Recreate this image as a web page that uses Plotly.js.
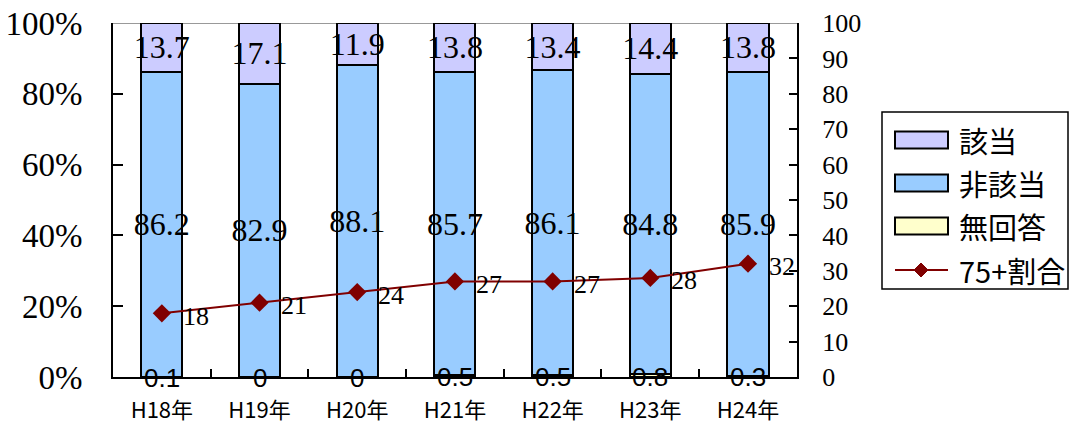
<!DOCTYPE html>
<html>
<head>
<meta charset="utf-8">
<script src="https://cdn.plot.ly/plotly-3.0.1.min.js"></script>
<style>
  html, body { margin: 0; padding: 0; background: #fff; }
  #chart { width: 1070px; height: 426px; }
</style>
</head>
<body>
<div id="chart"></div>
<script>
// Survey years
var years = ['H18年', 'H19年', 'H20年', 'H21年', 'H22年', 'H23年', 'H24年'];

// Answer shares (%), stacked bottom to top
var noAnswer = [0.1, 0, 0, 0.5, 0.5, 0.8, 0.3];                 // 無回答
var notApplicable = [86.2, 82.9, 88.1, 85.7, 86.1, 84.8, 85.9];  // 非該当
var applicable = [13.7, 17.1, 11.9, 13.8, 13.4, 14.4, 13.8];     // 該当

// Share aged 75+ (right axis)
var over75 = [18, 21, 24, 27, 27, 28, 32];

// Left axis ticks
var pctTicks = [0, 20, 40, 60, 80, 100];
var pctLabels = ['0%', '20%', '40%', '60%', '80%', '100%'];

var seriesNames = ['該当', '非該当', '無回答', '75+割合'];
var fillColors = ['#CCCCFF', '#99CCFF', '#FFFFCC'];
var lineColor = '#800000';

var serif = 'Liberation Serif, Times New Roman, serif';
var sans = 'Liberation Sans, Arial, sans-serif';
var cjk = 'Noto Sans CJK JP, sans-serif';

function barTrace(vals, name, color, showText) {
  var t = {
    type: 'bar',
    x: years,
    y: vals,
    name: name,
    marker: { color: color, line: { color: '#000', width: 2 } },
    hoverinfo: 'skip'
  };
  if (showText) {
    t.text = vals.map(String);
    t.textposition = 'inside';
    t.insidetextanchor = 'middle';
    t.textangle = 0;
    t.constraintext = 'none';
    t.textfont = { family: serif, size: 32, color: '#000' };
  } else {
    t.textposition = 'none';
  }
  return t;
}

var traces = [
  barTrace(noAnswer, seriesNames[2], fillColors[2], false),
  barTrace(notApplicable, seriesNames[1], fillColors[1], true),
  barTrace(applicable, seriesNames[0], fillColors[0], true),
  {
    type: 'scatter',
    mode: 'lines+markers',
    x: years,
    y: over75,
    yaxis: 'y2',
    name: seriesNames[3],
    line: { color: lineColor, width: 2 },
    marker: { symbol: 'diamond', size: 14, color: lineColor },
    cliponaxis: false,
    hoverinfo: 'skip'
  }
];

// Hand-built legend box on the right
var pw = 684, ph = 354;          // plot area size in px
var x0 = 113, yBottom = 377;     // plot area origin in px
function px(x) { return (x - x0) / pw; }
function py(y) { return (yBottom - y) / ph; }

var shapes = [
  // light top rule at 100%
  { type: 'line', xref: 'paper', yref: 'y', x0: 0, x1: 1, y0: 100, y1: 100,
    line: { color: '#999', width: 2 }, layer: 'below' },
  // legend frame
  { type: 'rect', xref: 'paper', yref: 'paper', x0: px(882), x1: px(1068), y0: py(289), y1: py(112),
    line: { color: '#000', width: 1.5 }, fillcolor: 'rgba(0,0,0,0)' }
];
var annotations = [];
var rowY = [140, 183, 226, 270];
for (var i = 0; i < 3; i++) {
  shapes.push({ type: 'rect', xref: 'paper', yref: 'paper',
    x0: px(895), x1: px(948), y0: py(rowY[i] + 8.5), y1: py(rowY[i] - 8.5),
    line: { color: '#000', width: 2 }, fillcolor: fillColors[i] });
}
shapes.push({ type: 'line', xref: 'paper', yref: 'paper', x0: px(895), x1: px(948),
  y0: py(rowY[3]), y1: py(rowY[3]), line: { color: lineColor, width: 2 } });
var dc = 921, dr = 7;
shapes.push({ type: 'path', xref: 'paper', yref: 'paper',
  path: 'M' + px(dc - dr) + ',' + py(rowY[3]) + ' L' + px(dc) + ',' + py(rowY[3] - dr) +
        ' L' + px(dc + dr) + ',' + py(rowY[3]) + ' L' + px(dc) + ',' + py(rowY[3] + dr) + ' Z',
  fillcolor: lineColor, line: { color: lineColor, width: 1 } });
for (var j = 0; j < 4; j++) {
  annotations.push({ xref: 'paper', yref: 'paper', x: px(957), y: py(rowY[j]),
    xanchor: 'left', yanchor: 'middle', showarrow: false, text: seriesNames[j],
    font: { family: cjk, size: 29, color: '#000' } });
}

// 無回答 values written at the foot of each bar
for (var n = 0; n < years.length; n++) {
  annotations.push({ xref: 'x', yref: 'y', x: years[n], y: noAnswer[n] / 2,
    xanchor: 'center', yanchor: 'middle', yshift: -1, showarrow: false,
    text: String(noAnswer[n]), font: { family: sans, size: 26, color: '#000' } });
}

// Value labels beside each 75+ point
for (var k = 0; k < years.length; k++) {
  annotations.push({ xref: 'x', yref: 'y2', x: years[k], y: over75[k],
    xanchor: 'left', yanchor: 'middle', xshift: 19, yshift: -3, showarrow: false,
    text: String(over75[k]), font: { family: serif, size: 26, color: '#000' } });
}

var layout = {
  width: 1070,
  height: 426,
  margin: { l: 113, r: 273, t: 23, b: 49 },
  paper_bgcolor: '#fff',
  plot_bgcolor: '#fff',
  barmode: 'stack',
  bargap: 0.58,
  showlegend: false,
  xaxis: {
    type: 'category',
    layer: 'below traces',
    showline: true, linecolor: '#000', linewidth: 2,
    ticks: 'inside', ticklen: 8, tickwidth: 2, tickcolor: '#000',
    tickson: 'boundaries',
    ticklabelstandoff: 13,
    tickfont: { family: cjk, size: 22, color: '#000' },
    showgrid: false, zeroline: false, fixedrange: true
  },
  yaxis: {
    range: [0, 100],
    tickvals: pctTicks,
    ticktext: pctLabels,
    showline: true, linecolor: '#000', linewidth: 2,
    ticks: 'inside', ticklen: 10, tickwidth: 2, tickcolor: '#000',
    ticklabelstandoff: 22,
    tickfont: { family: serif, size: 33, color: '#000' },
    showgrid: false, zeroline: false, fixedrange: true
  },
  yaxis2: {
    overlaying: 'y', side: 'right',
    range: [0, 100], dtick: 10,
    showline: true, linecolor: '#000', linewidth: 2,
    ticks: 'inside', ticklen: 8, tickwidth: 2, tickcolor: '#000',
    ticklabelstandoff: 18,
    tickfont: { family: serif, size: 26, color: '#000' },
    showgrid: false, zeroline: false, fixedrange: true
  },
  shapes: shapes,
  annotations: annotations
};

Plotly.newPlot('chart', traces, layout, { staticPlot: true, displayModeBar: false });
</script>
</body>
</html>
